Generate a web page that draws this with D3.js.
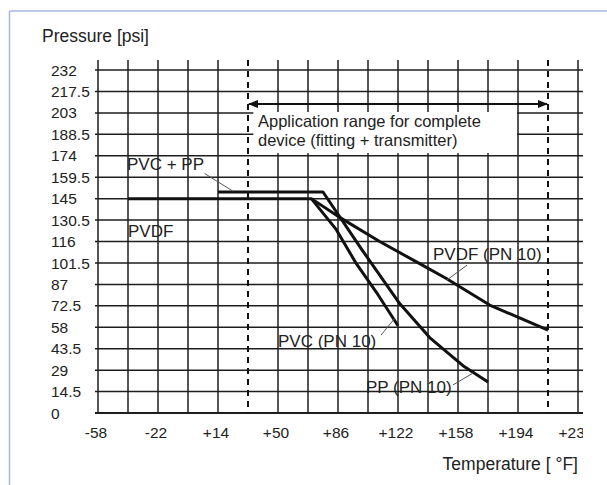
<!DOCTYPE html>
<html>
<head>
<meta charset="utf-8">
<script src="https://cdn.jsdelivr.net/npm/d3@7"></script>
<style>
  body { margin: 0; background: #fff; }
  text { font-family: "Liberation Sans", Arial, sans-serif; fill: #222; }
</style>
</head>
<body>
<div id="chart"></div>
<script>
// tick labels
var xTicks = [-58, -22, 14, 50, 86, 122, 158, 194, 230]
var yTicks = [0, 14.5, 29, 43.5, 58, 72.5, 87, 101.5, 116, 130.5, 145, 159.5, 174, 188.5, 203, 217.5, 232]
var rangeLimits = [32, 212]   // dashed lines (0 °C / 100 °C)

// curves [temperature °F, pressure psi]
var pvdf = [[-40, 145], [70, 145], [86, 133], [111, 116], [135, 101], [151, 91], [177, 73], [212, 56]]
var pp   = [[14, 149.5], [77, 149.5], [100, 111], [123, 74], [141, 51], [161, 32], [176, 21]]
var pvc  = [[70, 145], [85, 124], [97, 101], [110, 80], [122, 59]]

// labels with their leader lines (in data coords)
var labels = [
  {text: "PVC + PP",     t: -40.6, p: 164.3, lead: [[6, 162], [23, 150]]},
  {text: "PVDF",         t: -40,   p: 119,   lead: null},
  {text: "PVDF (PN 10)", t: 143,   p: 103.5, lead: [[163.4, 100], [151.4, 90]]},
  {text: "PVC (PN 10)",  t: 50,    p: 44.6,  lead: [[111.8, 52.7], [120.2, 64.2]]},
  {text: "PP (PN 10)",   t: 102.8, p: 13.5,  lead: [[155, 19], [167, 27]]}
]

var W = 607, H = 485

var svg = d3.select("#chart")
  .append("svg")
    .attr("width", W)
    .attr("height", H)

// frame lines
svg.append("line").attr("x1", 9.5).attr("y1", 11).attr("x2", W).attr("y2", 11)
  .style("stroke", "#a3b7db").style("stroke-width", 1.5)
svg.append("line").attr("x1", 9.5).attr("y1", 11).attr("x2", 9.5).attr("y2", H)
  .style("stroke", "#a3b7db").style("stroke-width", 1.5)

var x = d3.scaleLinear().domain([-58, 230]).range([98, 578])
var y = d3.scaleLinear().domain([0, 232]).range([413, 70])

svg.append("clipPath").attr("id", "clip")
  .append("rect").attr("x", 0).attr("y", 0).attr("width", 583).attr("height", H)

var g = svg.append("g").attr("clip-path", "url(#clip)")

// vertical grid every 18 °F
var xGrid = d3.range(-58, 231, 18).filter(function(d) { return rangeLimits.indexOf(d) < 0 })
g.selectAll(".vg")
  .data(xGrid)
  .enter().append("line")
  .attr("x1", function(d) { return x(d) })
  .attr("x2", function(d) { return x(d) })
  .attr("y1", 60)
  .attr("y2", y(0))
  .style("stroke", "#1e1e1e")
  .style("stroke-width", 1.5)

// horizontal grid
g.selectAll(".hg")
  .data(yTicks)
  .enter().append("line")
  .attr("x1", 95)
  .attr("x2", 583)
  .attr("y1", function(d) { return y(d) })
  .attr("y2", function(d) { return y(d) })
  .style("stroke", "#1e1e1e")
  .style("stroke-width", function(d) { return d == 0 ? 2 : 1.5 })

// dashed application range lines
g.selectAll(".dash")
  .data(rangeLimits)
  .enter().append("line")
  .attr("x1", function(d) { return x(d) })
  .attr("x2", function(d) { return x(d) })
  .attr("y1", 60)
  .attr("y2", y(0))
  .style("stroke", "#111")
  .style("stroke-width", 2)
  .style("stroke-dasharray", "6,5")

// double arrow
var defs = svg.append("defs")
defs.append("marker").attr("id", "ah")
  .attr("viewBox", "0 0 10 10").attr("refX", 9).attr("refY", 5)
  .attr("markerWidth", 5).attr("markerHeight", 5).attr("orient", "auto-start-reverse")
  .append("path").attr("d", "M0,1 L10,5 L0,9 Z").style("fill", "#111")
g.append("line")
  .attr("x1", x(rangeLimits[0]) + 1)
  .attr("x2", x(rangeLimits[1]) - 1)
  .attr("y1", y(209))
  .attr("y2", y(209))
  .style("stroke", "#111")
  .style("stroke-width", 2)
  .attr("marker-start", "url(#ah)")
  .attr("marker-end", "url(#ah)")

// annotation box
g.append("rect")
  .attr("x", x(35.2))
  .attr("y", y(203.6))
  .attr("width", x(193.4) - x(35.2))
  .attr("height", y(175.8) - y(203.6))
  .style("fill", "#fff")
g.append("text")
  .attr("x", x(38))
  .attr("y", y(193.2))
  .style("font-size", "16.5px")
  .text("Application range for complete")
g.append("text")
  .attr("x", x(38))
  .attr("y", y(180.6))
  .style("font-size", "16.5px")
  .text("device (fitting + transmitter)")

// curves
var line = d3.line()
  .x(function(d) { return x(d[0]) })
  .y(function(d) { return y(d[1]) })

g.selectAll(".curve")
  .data([pvdf, pp, pvc])
  .enter().append("path")
  .attr("d", line)
  .style("fill", "none")
  .style("stroke", "#111")
  .style("stroke-width", 3)
  .style("stroke-linejoin", "round")

// leader lines
g.selectAll(".lead")
  .data(labels.filter(function(d) { return d.lead }))
  .enter().append("path")
  .attr("d", function(d) { return line(d.lead) })
  .style("stroke", "#555")
  .style("stroke-width", 1)

g.selectAll(".lbl")
  .data(labels)
  .enter().append("text")
  .attr("x", function(d) { return x(d.t) })
  .attr("y", function(d) { return y(d.p) })
  .style("font-size", "17px")
  .text(function(d) { return d.text })

// x tick labels
g.selectAll(".xt")
  .data(xTicks)
  .enter().append("text")
  .attr("x", function(d) { return x(d) - 2 })
  .attr("y", 438)
  .attr("text-anchor", "middle")
  .style("font-size", "15.5px")
  .text(function(d) { return d > 0 ? "+" + d : d })

// y tick labels
svg.selectAll(".yt")
  .data(yTicks)
  .enter().append("text")
  .attr("x", 51)
  .attr("y", function(d) { return y(d) })
  .attr("dy", "0.36em")
  .style("font-size", "15.5px")
  .text(function(d) { return d })

// axis titles
svg.append("text")
  .attr("x", 42)
  .attr("y", 42)
  .style("font-size", "17.5px")
  .text("Pressure [psi]")

svg.append("text")
  .attr("x", 578)
  .attr("y", 470)
  .attr("text-anchor", "end")
  .style("font-size", "17.5px")
  .text("Temperature [ °F]")
</script>
</body>
</html>
